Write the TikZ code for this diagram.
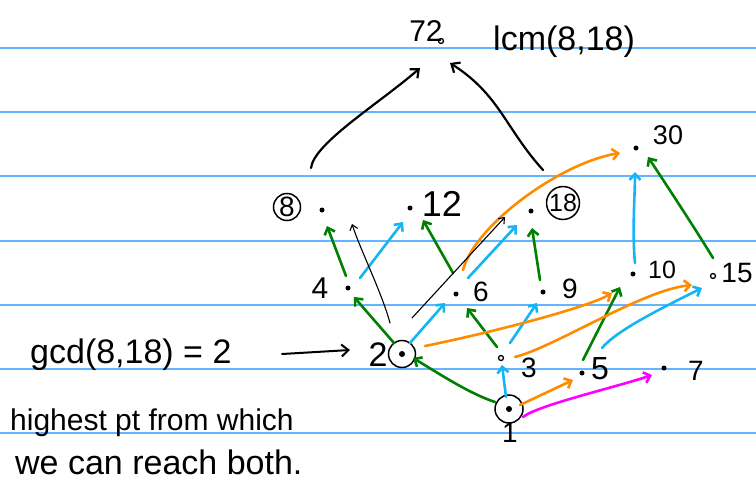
\documentclass[tikz,border=0pt]{standalone}
\usepackage{fontspec}
\setmainfont{Liberation Sans}
\usetikzlibrary{arrows.meta}
\definecolor{ruleblue}{RGB}{100,180,255}
\definecolor{grn}{RGB}{0,128,0}
\definecolor{cyn}{RGB}{20,180,245}
\definecolor{org}{RGB}{255,140,0}
\definecolor{mag}{RGB}{255,0,255}
\newcommand{\fs}[1]{\fontsize{#1}{#1}\selectfont}
\begin{document}
\begin{tikzpicture}[x=1pt,y=-1pt,
  every node/.style={inner sep=0pt},
  dot/.style={circle,fill=black,minimum size=5pt,inner sep=0pt},
  hdot/.style={circle,draw=black,line width=1.3pt,minimum size=5pt,inner sep=0pt},
  ring/.style={circle,draw=black,line width=1.5pt,minimum size=27pt,inner sep=0pt},
  cring/.style={circle,draw=black,line width=1.5pt,inner sep=0pt},
  arr/.style={line width=2.6pt,line cap=round,-{Straight Barb[length=6pt,width=11pt]}},
  gr/.style={arr,draw=grn},
  cy/.style={arr,draw=cyn},
  og/.style={arr,draw=org},
  mg/.style={arr,draw=mag},
  bk/.style={line width=2.2pt,line cap=round,draw=black,-{Straight Barb[length=7pt,width=12pt]}},
  thin/.style={line width=1.1pt,line cap=round,draw=black,-{Straight Barb[length=5pt,width=8pt]}},
  hand/.style={anchor=base west}
]
\useasboundingbox (0,0) rectangle (756,482);
\fill[white] (0,0) rectangle (756,482);
\foreach \y in {48,112,176,241,305,369,433}
  \draw[ruleblue,line width=1.3pt] (0,\y) -- (756,\y);

% dots
\node[hdot] (n72) at (441,41) {};
\node[dot] (n8) at (322,210) {};
\node[dot] (n12) at (410,208) {};
\node[dot] (n18) at (531,211) {};
\node[dot] (n30) at (636,148) {};
\node[dot] (n4) at (348,288) {};
\node[dot] (n6) at (456,294) {};
\node[dot] (n9) at (543,292) {};
\node[dot] (n10) at (633,274) {};
\node[hdot] (n15) at (713,276) {};
\node[ring] (n2) at (402,354) {};
\fill (n2.center) circle (3);
\node[hdot] (n3) at (501,358) {};
\node[dot] (n5) at (582,373) {};
\node[dot] (n7) at (664,368) {};
\node[ring,minimum size=28pt] (n1) at (509,409) {};
\fill (n1.center) circle (3);

% labels
\node[font=\fs{30}] (l72) at (426,31) {72};
\node[font=\fs{36}] (l12) at (442,204) {12};
\node[font=\fs{30}] (l4) at (320,288) {4};
\node[font=\fs{28}] (l6) at (481,292) {6};
\node[font=\fs{28}] (l9) at (570,289) {9};
\node[font=\fs{25}] (l10) at (662,270) {10};
\node[font=\fs{28}] (l15) at (737,273) {15};
\node[font=\fs{27}] (l30) at (668,135) {30};
\node[font=\fs{34}] (l2) at (378,355) {2};
\node[font=\fs{28}] (l3) at (529,368) {3};
\node[font=\fs{32}] (l5) at (600,369) {5};
\node[font=\fs{28}] (l7) at (696,371) {7};
\node[font=\fs{28}] (l1) at (510,433) {1};
\node[cring,minimum size=27pt,font=\fs{28}] (l8) at (287,207) {8};
\node[cring,minimum size=31pt,font=\fs{25}] (l18) at (563,203) {18};

\node[hand,font=\fs{34}] (lcm) at (493,50) {lcm(8,18)};
\node[hand,font=\fs{34}] (gcd) at (30,363) {gcd(8,18) = 2};
\node[hand,font=\fs{30}] (hi) at (10,430) {highest pt from which};
\node[hand,font=\fs{34}] (we) at (15,474) {we can reach both.};

% green
\draw[gr] ([shift={(-2,-12)}]n4.center) -- ([shift={(5,16)}]n8.center);
\draw[gr] ([shift={(-8,-11)}]n2.center) -- ([shift={(6,9)}]n4.center);
\draw[gr] ([shift={(-3,-21)}]n6.center) -- ([shift={(13,12)}]n12.center);
\draw[gr] ([shift={(-3,-12)}]n9.center) -- ([shift={(1,17)}]n18.center);
\draw[gr] ([shift={(-4,-11)}]n3.center) -- ([shift={(11,14)}]n6.center);
\draw[gr] ([shift={(-14,-7)}]n1.center) .. controls +(-25,-8) and +(25,15) .. ([shift={(11,4)}]n2.center);
\draw[gr] ([shift={(1,-13)}]n5.center) -- ([shift={(-13,13)}]n10.center);
\draw[gr] ([shift={(0,-18)}]n15.center) .. controls +(-15,-25) and +(10,15) .. ([shift={(12,9)}]n30.center);

% cyan
\draw[cy] ([shift={(12,-10)}]n4.center) -- ([shift={(-7,14)}]n12.center);
\draw[cy] ([shift={(12,-16)}]n6.center) -- ([shift={(-14,14)}]n18.center);
\draw[cy] ([shift={(8,-11)}]n2.center) -- ([shift={(-11,9)}]n6.center);
\draw[cy] ([shift={(9,-15)}]n3.center) -- ([shift={(-6,11)}]n9.center);
\draw[cy] ([shift={(-3,-12)}]n1.center) -- ([shift={(1,7)}]n3.center);
\draw[cy] ([shift={(20,-25)}]n5.center) .. controls +(15,-18) and +(-40,20) .. ([shift={(-11,12)}]n15.center);
\draw[cy] ([shift={(2,-11)}]n10.center) .. controls +(-3,-30) and +(0,20) .. ([shift={(-1,24)}]n30.center);

% orange
\draw[og] ([shift={(23,-8)}]n2.center) .. controls +(60,-12) and +(-25,15) .. ([shift={(-21,19)}]n10.center);
\draw[og] ([shift={(14,-1)}]n3.center) .. controls +(40,-10) and +(-50,5) .. ([shift={(-21,9)}]n15.center);
\draw[og] ([shift={(11,-4)}]n1.center) -- ([shift={(-9,7)}]n5.center);
\draw[og] ([shift={(7,-24)}]n6.center) .. controls +(12,-45) and +(-60,10) .. ([shift={(-16,5)}]n30.center);

% magenta
\draw[mg] ([shift={(14,8)}]n1.center) .. controls +(15,-12) and +(-35,12) .. ([shift={(-12,7)}]n7.center);

% black
\draw[bk] ([shift={(-11,-42)}]n8.center) .. controls +(3,-25) and +(-40,35) .. ([shift={(-21,27)}]n72.center);
\draw[bk] ([shift={(12,-41)}]n18.center) .. controls +(-38,-42) and +(50,32) .. ([shift={(9,22)}]n72.center);
\draw[thin] ([shift={(-12,-31)}]n2.center) .. controls +(-8,-30) and +(8,25) .. ([shift={(30,14)}]n8.center);
\draw[thin] ([shift={(10,-36)}]n2.center) -- ([shift={(-26,6)}]n18.center);

\coordinate (gcdarr) at (282,354);
\draw[bk,line width=2pt] (gcdarr) -- ([shift={(-52,-4)}]n2.center);
\end{tikzpicture}
\end{document}
